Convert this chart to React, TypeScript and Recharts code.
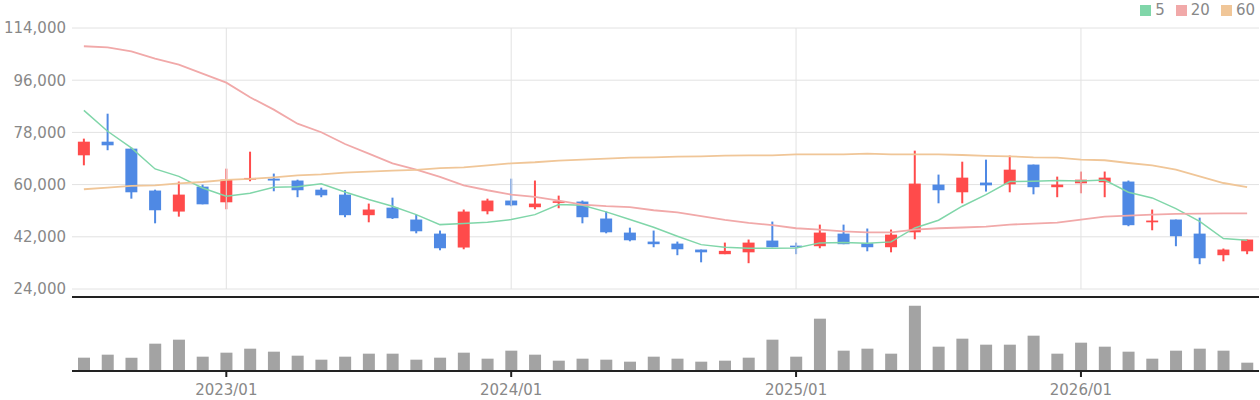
import {
  Bar,
  BarChart,
  CartesianGrid,
  ComposedChart,
  Legend,
  Line,
  ReferenceLine,
  XAxis,
  YAxis,
} from "recharts";

const dates = [
  "2022/07", "2022/08", "2022/09", "2022/10", "2022/11", "2022/12",
  "2023/01", "2023/02", "2023/03", "2023/04", "2023/05", "2023/06",
  "2023/07", "2023/08", "2023/09", "2023/10", "2023/11", "2023/12",
  "2024/01", "2024/02", "2024/03", "2024/04", "2024/05", "2024/06",
  "2024/07", "2024/08", "2024/09", "2024/10", "2024/11", "2024/12",
  "2025/01", "2025/02", "2025/03", "2025/04", "2025/05", "2025/06",
  "2025/07", "2025/08", "2025/09", "2025/10", "2025/11", "2025/12",
  "2026/01", "2026/02", "2026/03", "2026/04", "2026/05", "2026/06",
  "2026/07", "2026/08",
];

const opens = [
  70100, 74800, 72400, 57950, 50700, 59300, 53900, 61700, 62050, 61400,
  58250, 56550, 49450, 52050, 47950, 43100, 38300, 50800, 54500, 52200,
  53700, 54150, 48300, 43450, 40350, 39650, 37600, 36000, 36650, 40700,
  38950, 38750, 43100, 39800, 38400, 43550, 60000, 57350, 60700, 60100,
  66900, 59100, 60450, 60800, 61050, 47000, 47950, 43100, 35650, 37000,
];

const highs = [
  75850, 84450, 72750, 58250, 61050, 60000, 65500, 71350, 63800, 61700,
  58950, 58150, 53450, 55500, 49650, 44150, 51400, 55150, 62050, 61400,
  56200, 54500, 50700, 45150, 44150, 40350, 37600, 40000, 41050, 47250,
  40000, 46200, 46200, 44850, 44500, 71700, 63450, 67900, 68600, 70000,
  66900, 62750, 64500, 64500, 61400, 51400, 47950, 48600, 37950, 41050,
];

const lows = [
  66650, 71850, 55150, 46650, 48950, 53200, 51500, 61150, 57700, 55650,
  55650, 48750, 47000, 48150, 43200, 37350, 37700, 49750, 52550, 51500,
  51850, 46650, 43200, 40450, 38400, 35650, 33200, 36000, 32900, 38400,
  36000, 38050, 39450, 37000, 36650, 41150, 53550, 53550, 57600, 57350,
  56650, 55650, 57000, 55650, 45650, 44250, 38750, 32550, 33550, 36000,
];

const closes = [
  74800, 73550, 57350, 51150, 56550, 53200, 61700, 62300, 61400, 58050,
  56300, 49450, 51400, 48400, 43900, 38050, 50700, 54500, 52850, 53450,
  54250, 48750, 43550, 40800, 39450, 37700, 36650, 37150, 40000, 38400,
  38400, 43450, 39450, 38400, 42750, 60350, 58050, 62400, 59750, 65150,
  59100, 60000, 61700, 62400, 46000, 47600, 42200, 34600, 37600, 41050,
];

const ma5 = [
  85600, 78400, 72650, 65400, 62850, 58850, 56000, 57000, 59100, 59300,
  60250, 57450, 54850, 52550, 49650, 46200, 46550, 47000, 47950, 49650,
  53100, 52850, 50600, 47950, 45300, 42200, 39300, 38400, 38050, 38050,
  38150, 39900, 40000, 39800, 40250, 45050, 47700, 52550, 56550, 61050,
  61150, 61400, 61250, 61600, 57350, 55400, 51700, 47350, 41400, 40800,
];

const ma20 = [
  107700, 107350, 105950, 103450, 101350, 98250, 95150, 90100, 85850, 81000,
  78050, 74000, 70700, 67350, 65150, 62650, 59750, 58050, 56550, 55750,
  54500, 53100, 52550, 52200, 51150, 50450, 49100, 47800, 46800, 46000,
  44950, 44500, 43900, 43550, 43550, 44500, 44950, 45200, 45500, 46200,
  46550, 46900, 47950, 48950, 49300, 49650, 49900, 50000, 50100, 50100,
];

const ma60 = [
  58400, 58950, 59550, 59750, 60450, 60900, 61600, 61950, 62500, 63200,
  63550, 64150, 64500, 64800, 65050, 65650, 65950, 66650, 67350, 67700,
  68250, 68600, 68950, 69300, 69400, 69650, 69750, 70000, 70100, 70100,
  70450, 70450, 70450, 70700, 70450, 70450, 70450, 70200, 69900, 69750,
  69400, 69300, 68600, 68400, 67450, 66650, 65150, 62850, 60550, 59100,
];

// relative volume
const volumes = [
  40, 49, 40, 82, 94, 43, 55, 67, 58, 46, 34, 43, 52, 52, 34, 40, 55, 37,
  61, 49, 31, 37, 34, 28, 43, 37, 28, 31, 40, 94, 43, 157, 61, 67, 52, 196,
  73, 97, 79, 79, 106, 52, 85, 73, 58, 37, 61, 67, 61, 25,
];

const yearTicks = ["2023/01", "2024/01", "2025/01", "2026/01"];
const priceTicks = [24000, 42000, 60000, 78000, 96000, 114000];
const maNames = ["5", "20", "60"];
const maKeys = ["ma5", "ma20", "ma60"];
const maColors = ["#80d6a9", "#f1a9a9", "#f0c698"];
const VOL_MAX = 222;

const UP = "#ff4b4b";
const DOWN = "#4f89e4";
const GRID = "#e2e2e2";
const TEXT = "#888888";

const rows = dates.map((date, i) => ({
  date,
  open: opens[i],
  high: highs[i],
  low: lows[i],
  close: closes[i],
  range: [lows[i], highs[i]],
  ma5: ma5[i],
  ma20: ma20[i],
  ma60: ma60[i],
  volume: volumes[i],
}));

function Candle(props: any) {
  const { x, y, width, height, payload } = props;
  const { open, close, high, low } = payload;
  const color = close >= open ? UP : DOWN;
  const ratio = height / (high - low);
  const cx = x + width / 2;
  const top = y + (high - Math.max(open, close)) * ratio;
  const bodyH = Math.max(Math.abs(open - close) * ratio, 1.6);
  return (
    <g>
      <line x1={cx} x2={cx} y1={y} y2={y + height} stroke={color} strokeWidth={2} />
      <rect x={cx - 6} y={top} width={12} height={bodyH} fill={color} />
    </g>
  );
}

function LegendBox() {
  return (
    <div style={{ display: "flex", alignItems: "center", height: 16 }}>
      {maNames.map((name, i) => (
        <div key={name} style={{ display: "flex", alignItems: "center", marginLeft: 11 }}>
          <span style={{ width: 11, height: 11, background: maColors[i], marginRight: 4 }} />
          <span style={{ color: TEXT, fontSize: 15, lineHeight: "16px" }}>{name}</span>
        </div>
      ))}
    </div>
  );
}

export default function App() {
  return (
    <div
      style={{
        position: "absolute",
        left: 0,
        top: 0,
        width: 1260,
        height: 400,
        background: "#fff",
        fontFamily: "'DejaVu Sans', sans-serif",
      }}
    >
      <ComposedChart
        width={1260}
        height={300}
        data={rows}
        margin={{ top: 28, right: 1, bottom: 11, left: 0 }}
      >
        <CartesianGrid vertical={false} stroke={GRID} />
        <XAxis dataKey="date" hide />
        <YAxis
          width={72}
          domain={[24000, 114000]}
          ticks={priceTicks}
          interval={0}
          axisLine={false}
          tickLine={false}
          tickSize={6}
          tickMargin={0}
          tick={{ fill: TEXT, fontSize: 15 }}
          tickFormatter={(v: number) => v.toLocaleString("en-US")}
        />
        {yearTicks.map((d) => (
          <ReferenceLine key={d} x={d} stroke={GRID} />
        ))}
        <Legend
          layout="horizontal"
          verticalAlign="middle"
          align="center"
          wrapperStyle={{ top: 2, right: 5, left: "auto", width: "auto" }}
          content={<LegendBox />}
        />
        {maKeys.map((key, i) => (
          <Line
            key={key}
            dataKey={key}
            name={maNames[i]}
            stroke={maColors[i]}
            strokeWidth={i === 0 ? 1.5 : 1.8}
            dot={false}
            isAnimationActive={false}
          />
        ))}
        <Bar dataKey="range" shape={<Candle />} legendType="none" isAnimationActive={false} />
      </ComposedChart>
      <div style={{ marginTop: -4 }}>
        <BarChart
          width={1260}
          height={104}
          data={rows}
          margin={{ top: 1, right: 1, bottom: 0, left: 72 }}
        >
          <XAxis
            dataKey="date"
            ticks={yearTicks}
            interval={0}
            height={29}
            axisLine={{ stroke: "#222", strokeWidth: 2 }}
            tickLine={{ stroke: "#222", strokeWidth: 2 }}
            tickSize={6}
            tickMargin={7}
            tick={{ fill: TEXT, fontSize: 15 }}
          />
          <YAxis hide domain={[0, VOL_MAX]} />
          <ReferenceLine y={VOL_MAX} stroke="#222" strokeWidth={2} />
          <Bar dataKey="volume" fill="#a3a3a3" barSize={12} isAnimationActive={false} />
        </BarChart>
      </div>
    </div>
  );
}
